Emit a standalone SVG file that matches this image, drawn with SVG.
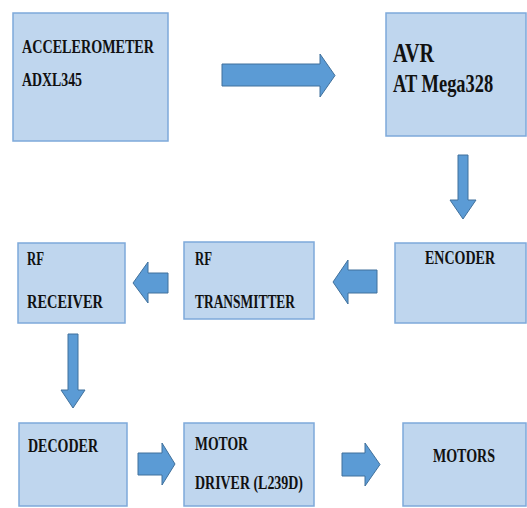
<svg xmlns="http://www.w3.org/2000/svg" width="527" height="508" viewBox="0 0 527 508">
<style>
.box{fill:#bfd6ee;stroke:#7ea9da;stroke-width:1.5}
.arr{fill:#5b9bd5;stroke:#41719c;stroke-width:1}
.t{font-family:'Liberation Serif',serif;font-weight:bold;fill:#111}
</style>
<rect width="527" height="508" fill="#ffffff"/>
<g id="accelerometer">
<rect class="box" x="13" y="13" width="155" height="128"/>
<text class="t" font-family="Liberation Serif, serif" x="22" y="53" font-size="19" textLength="132" lengthAdjust="spacingAndGlyphs">ACCELEROMETER</text>
<text class="t" font-family="Liberation Serif, serif" x="22" y="86" font-size="19" textLength="60" lengthAdjust="spacingAndGlyphs">ADXL345</text>
</g>
<g id="avr">
<rect class="box" x="386" y="13" width="140" height="123"/>
<text class="t" font-family="Liberation Serif, serif" transform="translate(393,62) scale(0.72,1)" x="0" y="0" font-size="28">AVR</text>
<text class="t" font-family="Liberation Serif, serif" transform="translate(393,92) scale(0.71,1)" x="0" y="0" font-size="26">AT Mega328</text>
</g>
<g id="encoder">
<rect class="box" x="395" y="243" width="131" height="80"/>
<text class="t" font-family="Liberation Serif, serif" x="425" y="264" font-size="18" textLength="70" lengthAdjust="spacingAndGlyphs">ENCODER</text>
</g>
<g id="rf-transmitter">
<rect class="box" x="184" y="242" width="130" height="77"/>
<text class="t" font-family="Liberation Serif, serif" x="195" y="265" font-size="18" textLength="17" lengthAdjust="spacingAndGlyphs">RF</text>
<text class="t" font-family="Liberation Serif, serif" x="195" y="308" font-size="18" textLength="100" lengthAdjust="spacingAndGlyphs">TRANSMITTER</text>
</g>
<g id="rf-receiver">
<rect class="box" x="18" y="243" width="107" height="80"/>
<text class="t" font-family="Liberation Serif, serif" x="27" y="265" font-size="18" textLength="17" lengthAdjust="spacingAndGlyphs">RF</text>
<text class="t" font-family="Liberation Serif, serif" x="27" y="308" font-size="18" textLength="76" lengthAdjust="spacingAndGlyphs">RECEIVER</text>
</g>
<g id="decoder">
<rect class="box" x="19" y="423" width="108" height="83"/>
<text class="t" font-family="Liberation Serif, serif" x="28" y="452" font-size="18" textLength="70" lengthAdjust="spacingAndGlyphs">DECODER</text>
</g>
<g id="motor-driver">
<rect class="box" x="184" y="423" width="130" height="83"/>
<text class="t" font-family="Liberation Serif, serif" x="195" y="450" font-size="18" textLength="53" lengthAdjust="spacingAndGlyphs">MOTOR</text>
<text class="t" font-family="Liberation Serif, serif" x="195" y="489" font-size="18" textLength="108" lengthAdjust="spacingAndGlyphs">DRIVER (L239D)</text>
</g>
<g id="motors">
<rect class="box" x="403" y="423" width="123" height="83"/>
<text class="t" font-family="Liberation Serif, serif" x="433" y="462" font-size="18" textLength="62" lengthAdjust="spacingAndGlyphs">MOTORS</text>
</g>
<g id="connectors">
<polygon class="arr" points="222,64 320,64 320,54 335,75.5 320,97 320,86 222,86"/>
<polygon class="arr" points="458,155 468,155 468,200 476,200 463,219 450,200 458,200"/>
<polygon class="arr" points="377,270 348,270 348,260 333,282 348,304 348,293 377,293"/>
<polygon class="arr" points="168,273 148,273 148,262 133,283 148,303 148,293 168,293"/>
<polygon class="arr" points="68,334 78,334 78,390 85,390 73,408 61,390 68,390"/>
<polygon class="arr" points="138,453 162,453 162,443 175,464 162,485 162,475 138,475"/>
<polygon class="arr" points="342,453 365,453 365,443 380,464.5 365,486 365,476 342,476"/>
</g>
</svg>
